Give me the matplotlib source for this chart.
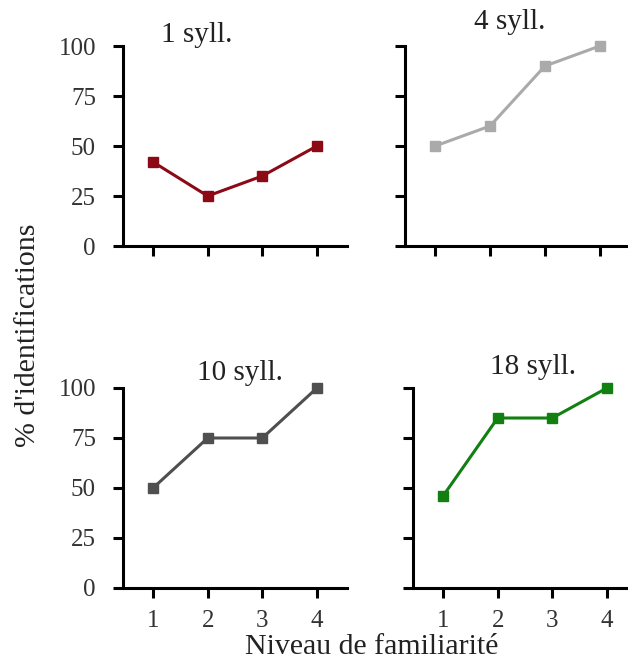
import matplotlib
matplotlib.use("Agg")
import matplotlib.pyplot as plt

plt.rcParams['font.family'] = ['Liberation Serif', 'DejaVu Serif']

levels = [1, 2, 3, 4]
titles = ["1 syll.", "4 syll.", "10 syll.", "18 syll."]
syll_1 = [42, 25, 35, 50]
syll_4 = [50, 60, 90, 100]
syll_10 = [50, 75, 75, 100]
syll_18 = [46, 85, 85, 100]
y_ticks = [0, 25, 50, 75, 100]

series = [syll_1, syll_4, syll_10, syll_18]
colors = ["#8b0a16", "#aaaaaa", "#4f4f4f", "#118011"]

W, H = 628, 660
fig = plt.figure(figsize=(W / 100, H / 100), dpi=100)

# axes boxes in pixels: left, top(100), right, bottom(0)
boxes = [(123, 46, 347, 246), (405, 46, 630, 246),
         (123, 388, 347, 588), (413, 388, 637, 588)]
# title centres in pixels
title_pos = [(197, 35), (510, 22), (240, 373), (533, 367)]

for i, (vals, col, (l, t, r, b)) in enumerate(zip(series, colors, boxes)):
    ax = fig.add_axes([l / W, 1 - b / H, (r - l) / W, (b - t) / H])
    ax.plot(levels, vals, color=col, lw=2.2, marker='s', ms=7,
            clip_on=False, zorder=3)
    ax.set_xlim(0.45, 4.55)
    ax.set_ylim(0, 100)
    ax.set_xticks(levels)
    ax.set_yticks(y_ticks)
    for s in ['top', 'right']:
        ax.spines[s].set_visible(False)
    for s in ['left', 'bottom']:
        ax.spines[s].set_linewidth(2.2)
    ax.tick_params(width=2.2, length=7.5, labelsize=18, color='black',
                   labelcolor='#333333')
    ax.tick_params(axis='x', pad=8)
    ax.tick_params(axis='y', pad=12)
    if i < 2:
        ax.set_xticklabels([])
    if i % 2 == 1:
        ax.set_yticklabels([])
    tx, ty = title_pos[i]
    fig.text(tx / W, 1 - ty / H, titles[i], ha='center', va='center',
             fontsize=21, color='#222222')

fig.text(372 / W, 1 - 647 / H, "Niveau de familiarité", ha='center',
         va='center', fontsize=21.5, color='#222222')
fig.text(28 / W, 1 - 335 / H, "% d'identifications", ha='center',
         va='center', rotation=90, fontsize=21.5, color='#222222')

fig.savefig("out.png", dpi=100)
